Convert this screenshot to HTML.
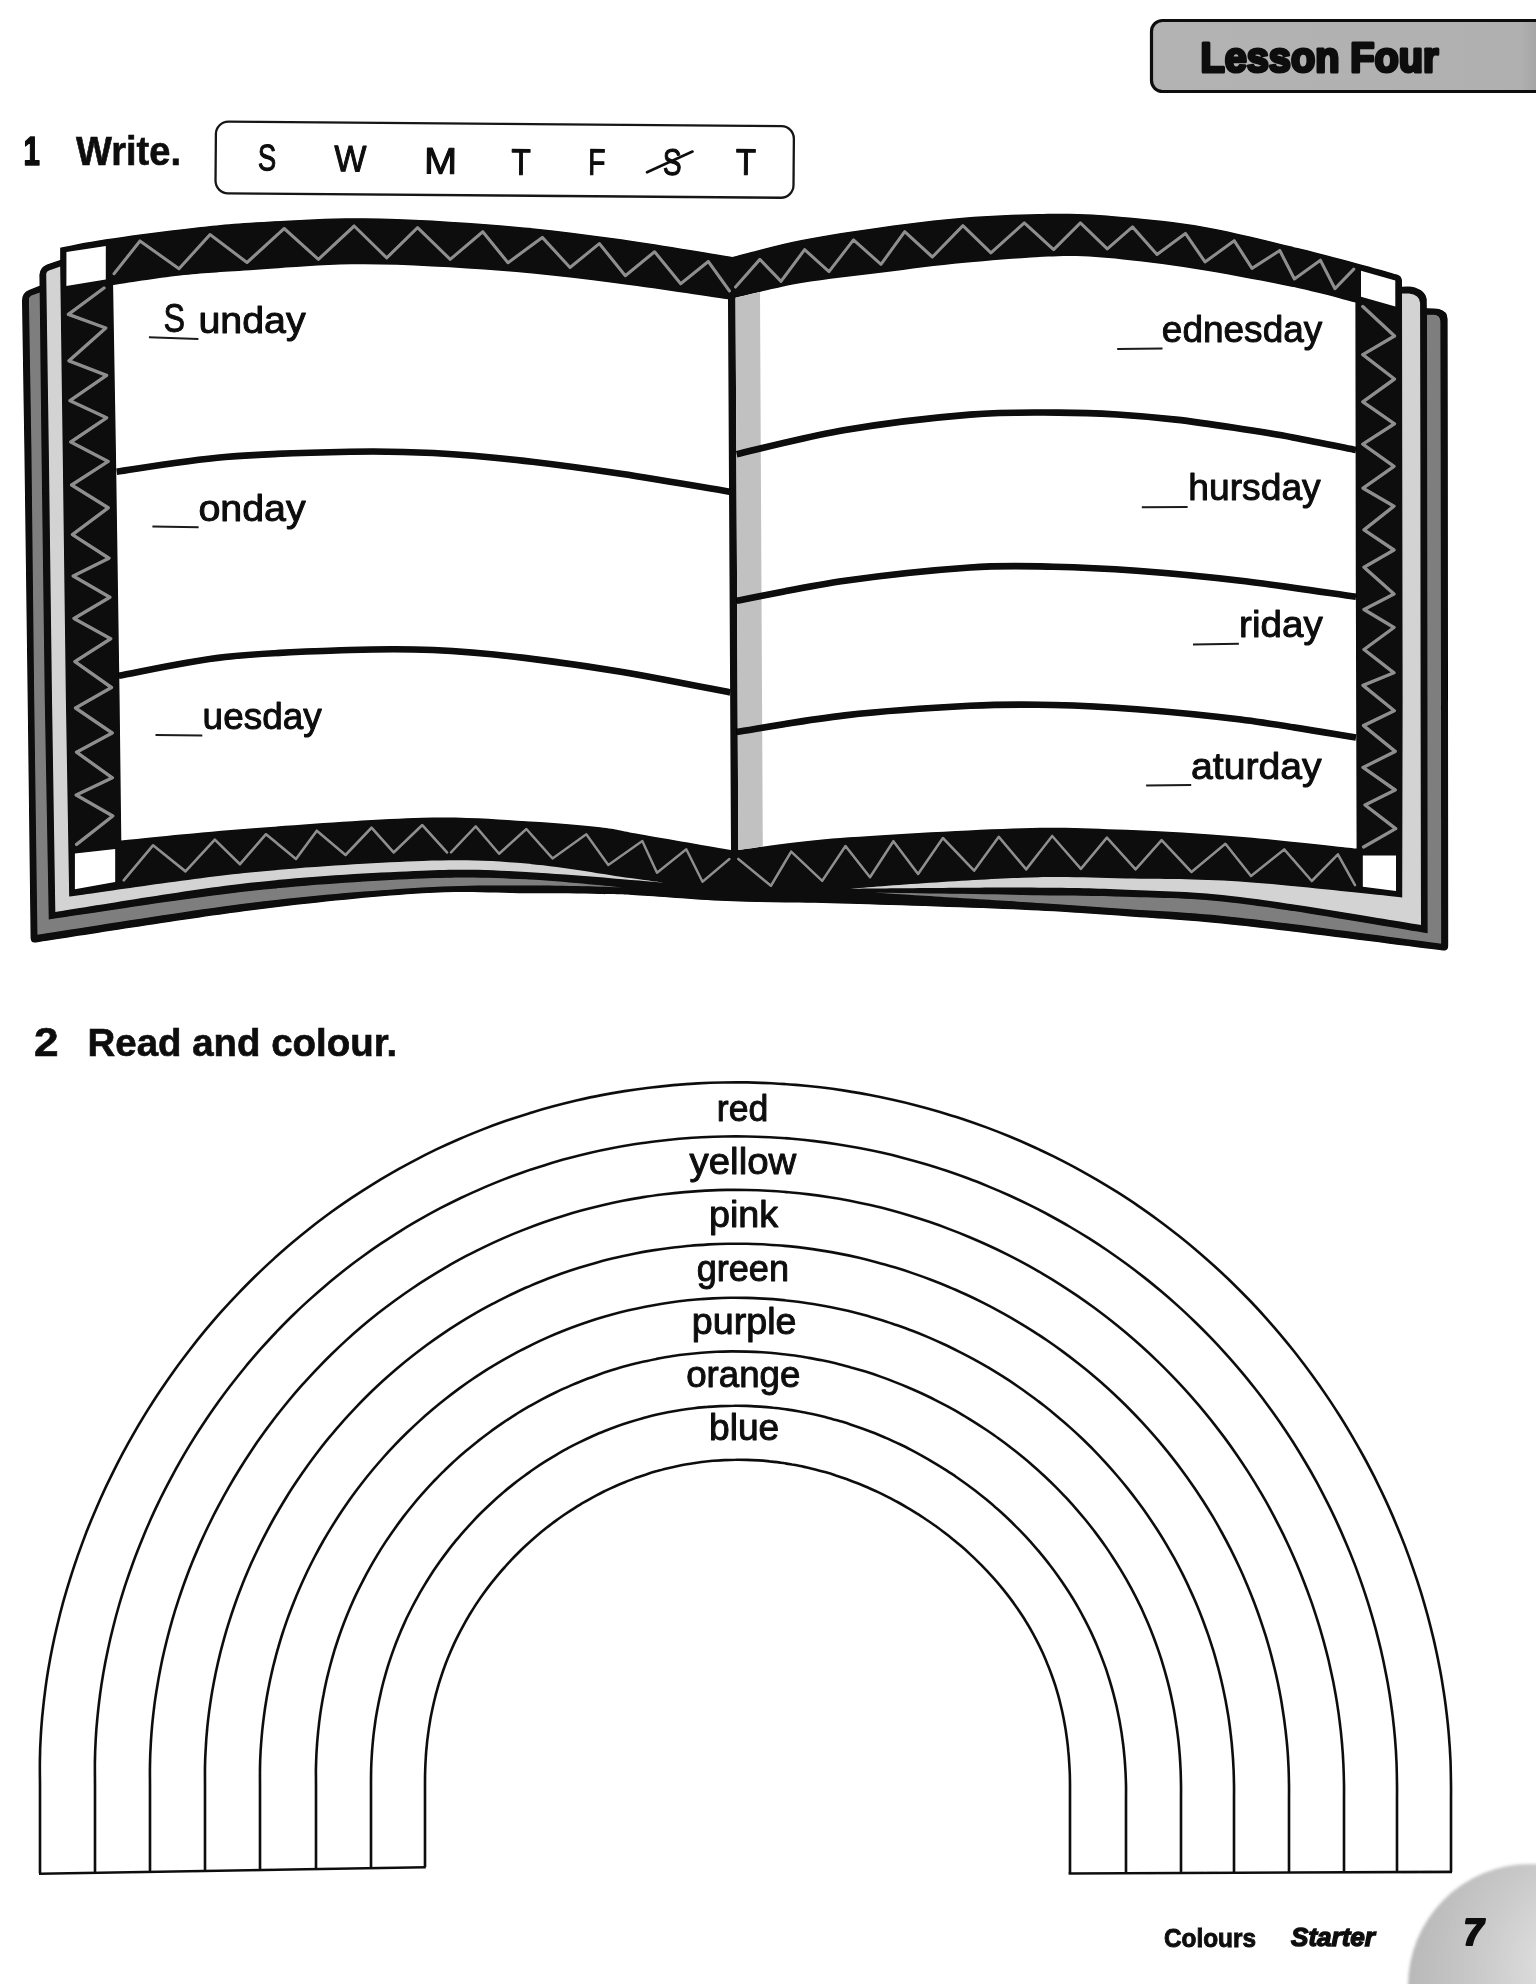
<!DOCTYPE html>
<html lang="en">
<head>
<meta charset="utf-8">
<title>Lesson Four</title>
<style>
html,body{margin:0;padding:0;background:#fff;}
body{width:1536px;height:1984px;overflow:hidden;font-family:"Liberation Sans",sans-serif;}
svg{display:block;}
</style>
</head>
<body>
<svg width="1536" height="1984" viewBox="0 0 1536 1984">
<defs>
<linearGradient id="hdr" x1="0" x2="1" y1="0" y2="0"><stop offset="0" stop-color="#b3b3b3"/><stop offset="0.88" stop-color="#b0b0b0"/><stop offset="1" stop-color="#8a8a8a"/></linearGradient>
<radialGradient id="ball" cx="0.72" cy="0.42" r="0.75"><stop offset="0" stop-color="#e9e9e9"/><stop offset="0.55" stop-color="#cbcbcb"/><stop offset="1" stop-color="#b6b6b6"/></radialGradient>
<filter id="soft" x="-10%" y="-10%" width="120%" height="120%"><feGaussianBlur stdDeviation="1.6"/></filter>
<filter id="ink" filterUnits="userSpaceOnUse" x="-20" y="-20" width="1640" height="2160"><feGaussianBlur stdDeviation="0.4"/></filter>
</defs>
<rect width="1536" height="1984" fill="#fff"/>
<g id="page" filter="url(#ink)">
<g id="header">
<rect x="1151.5" y="20.5" width="420" height="71" rx="11" ry="11" fill="url(#hdr)" stroke="#111" stroke-width="3.2"/>
<text id="t_lesson" x="1200.5" y="72" font-family="'Liberation Sans',sans-serif" font-weight="bold" font-size="42.5" textLength="238" lengthAdjust="spacingAndGlyphs" fill="#0a0a0a" stroke="#0a0a0a" stroke-width="3.2" stroke-linejoin="round">Lesson Four</text>
</g>
<g id="ex1" font-family="'Liberation Sans',sans-serif" fill="#0a0a0a">
<text id="t_1" x="23.4" y="164.6" font-weight="bold" font-size="41" textLength="16.4" lengthAdjust="spacingAndGlyphs" stroke="#0a0a0a" stroke-width="1.5" stroke-linejoin="round">1</text>
<text id="t_write" x="76" y="165" font-weight="bold" font-size="41" textLength="105" lengthAdjust="spacingAndGlyphs" stroke="#0a0a0a" stroke-width="0.6">Write.</text>
<g transform="rotate(0.46 215 121)">
<rect x="216" y="121.6" width="578" height="71.6" rx="12.5" ry="12.5" fill="#fff" stroke="#161616" stroke-width="2.3"/>
<text id="t_la" x="267.3" y="170" text-anchor="middle" font-size="37" textLength="18.4" lengthAdjust="spacingAndGlyphs" stroke="#0a0a0a" stroke-width="1.05" stroke-linejoin="round">S</text>
<text id="t_lb" x="350.6" y="170.2" text-anchor="middle" font-size="37" textLength="32" lengthAdjust="spacingAndGlyphs" stroke="#0a0a0a" stroke-width="1.05" stroke-linejoin="round">W</text>
<text id="t_lc" x="441" y="171.8" text-anchor="middle" font-size="37" textLength="33" lengthAdjust="spacingAndGlyphs" stroke="#0a0a0a" stroke-width="1.05" stroke-linejoin="round">M</text>
<text id="t_ld" x="521.3" y="172.4" text-anchor="middle" font-size="37" textLength="19.4" lengthAdjust="spacingAndGlyphs" stroke="#0a0a0a" stroke-width="1.05" stroke-linejoin="round">T</text>
<text id="t_le" x="597.2" y="171.8" text-anchor="middle" font-size="37" textLength="17.4" lengthAdjust="spacingAndGlyphs" stroke="#0a0a0a" stroke-width="1.05" stroke-linejoin="round">F</text>
<text id="t_lf" x="672.5" y="171.1" text-anchor="middle" font-size="37" textLength="18.8" lengthAdjust="spacingAndGlyphs" stroke="#0a0a0a" stroke-width="1.05" stroke-linejoin="round">S</text>
<text id="t_lg" x="746.2" y="170.7" text-anchor="middle" font-size="37" textLength="20.2" lengthAdjust="spacingAndGlyphs" stroke="#0a0a0a" stroke-width="1.05" stroke-linejoin="round">T</text>
</g>
<path d="M647 172.3L692.5 151.5" stroke="#111" stroke-width="2.6" fill="none" stroke-linecap="round"/>
</g>
<g id="book">
<path d="M22 300L24.4 450L27.7 700L30.6 938Q31 943.5 36 942.4C71.7 937.1 185.6 918.7 250 910.5C314.4 902.3 376.2 896.2 422.3 893.3C468.4 890.4 496.8 893.2 526.4 893.3C556 893.4 581.1 893.6 600 894C618.9 894.4 617.8 894.2 640 895.4C662.2 896.6 698.5 899.9 733.5 901.3C768.5 902.7 801.9 902.3 850 903.7C898.1 905.1 976.2 907.6 1022.3 909.7C1068.4 911.8 1090.1 913.6 1126.4 916.2C1162.7 918.8 1187.2 919.7 1240 925.4C1292.8 931.1 1409.2 946.2 1443 950.4Q1448.4 951.2 1448.2 945L1448 700L1447.8 450L1447.6 319Q1447.4 311 1439 309Q1437 308.4 1434 308.4L1426.8 308.3L1426.7 299Q1426 291.5 1415 287.6Q1412 286.6 1408 286.6L1402 286.7L1402 281Q1401.8 276 1397 274.6C1391.3 273 1379.3 269.4 1362.8 265C1346.2 260.6 1324 254.3 1297.7 248C1271.4 241.7 1234.2 232.1 1205 226.9C1175.8 221.7 1147.3 219.2 1122.8 217C1098.2 214.8 1084 213.7 1057.7 213.8C1031.4 213.9 994.1 215.3 965 217.5C935.9 219.7 910.1 223.2 882.8 226.9C855.5 230.6 826.4 234.9 801.4 239.9C776.4 244.9 744 254.2 732.5 257C712.8 253.9 652.8 243.6 614 238.3C575.2 233 541.7 228.5 500 225.2C458.3 221.8 405.7 218.6 364 218.2C322.3 217.8 280.7 220.9 250 222.8C219.3 224.7 204 226.8 180 229.5C156 232.2 125.8 236.3 105.8 239.3C85.8 242.3 67.8 246.3 60.2 247.7L60.2 260L47 264.4Q39.8 267 39.4 275L39.6 285.8L29 290Q22.4 292.6 22.1 300Z" fill="#070707"/>
<path d="M28.9 299Q29 296.4 31.4 295.4L39.7 292.4L41.5 450L44.8 700L48.8 919.4C82.3 914.7 187.8 897.8 250 891C312.2 884.2 376.2 880.5 422.3 878.5C468.4 876.5 493.1 877.8 526.4 879.3C559.7 880.8 606.1 886 622 887.3C606.1 887 559.7 885.5 526.4 885.5C493.1 885.5 468.4 884.7 422.3 887.6C376.2 890.5 314.1 895.1 250 903C185.8 910.9 72.8 929.5 37.4 934.8L34.2 700L31.4 450Z" fill="#7e7e7e"/>
<path d="M1427 314.7L1434 314.8Q1440 315.4 1440.4 321L1440.7 450L1441 700L1441.2 943.8C1407.7 939.4 1292.5 923.5 1240 917.7C1187.5 911.9 1162.7 911.6 1126.4 909C1090.1 906.4 1064.7 904.7 1022.3 902C979.9 899.3 897 894.2 872 892.6C897 893 979.9 894.2 1022.3 894.9C1064.7 895.6 1090.1 895.3 1126.4 896.7C1162.7 898.1 1189.8 897.3 1240 903.4C1290.2 909.5 1396.3 928.2 1427.6 933.2L1427.4 700L1427.1 450Z" fill="#7e7e7e"/>
<path d="M46.2 274Q46.4 271.6 49 270.6L60.2 266.6L62.7 450L65.9 700L69.2 896.6C99.3 892.6 191.2 878.4 250 872.5C308.9 866.6 376.2 862.5 422.3 861C468.4 859.5 491.8 860.8 526.4 863.6C561 866.4 607.1 874.9 630 878C652.9 881.1 657.9 881.8 663.5 882.5C640.6 880.8 566.6 874 526.4 872C486.2 870 468.4 868.9 422.3 870.7C376.2 872.5 311.2 875.9 250 882.8C188.8 889.7 87.8 907.1 55.3 912L52 700L48.8 450Z" fill="#d3d3d3"/>
<path d="M1402 293.4L1409 293.5Q1419.6 294.5 1420.1 303L1420.4 450L1420.6 700L1421 925C1390.8 920.3 1289.1 902.8 1240 896.9C1190.9 891 1162.7 891.2 1126.4 889.7C1090.1 888.2 1068.4 887.8 1022.3 887.6C976.2 887.5 878.7 888.6 850 888.8C878.7 886 976.2 879.2 1022.3 877.7C1068.4 876.2 1090.1 877.9 1126.4 878.5C1162.7 879.1 1194 878.5 1240 881.6C1286 884.8 1375.2 894.8 1402.2 897.4L1402.6 700L1402.2 450Z" fill="#d3d3d3"/>
<path d="M113.1 285C124.2 283.4 157.2 278 180 275.5C202.8 273 219.3 272.1 250 270.2C280.7 268.3 322.3 264.2 364 264.3C405.7 264.4 458.3 267.7 500 270.8C541.7 273.9 576 278.2 614 283C652 287.8 709 296.6 728 299.3L729.5 575L731 850C715.8 847.4 661.8 838 640 834.2C618.2 830.4 618.9 829.4 600 827.2C581.1 825 556 822.8 526.4 821.2C496.8 819.6 468.4 816.6 422.3 817.8C376.2 819 300.2 824.7 250 828.5C199.8 832.3 142.8 838.4 121.3 840.4L119.6 700L115.9 450Z" fill="#fff"/>
<path d="M735.5 297.7C746.5 295.2 776.9 287.2 801.4 283C825.9 278.8 855.5 275.8 882.8 272.4C910.1 269 935.9 265.4 965 262.7C994.1 260 1031.4 256.8 1057.7 256.2C1084 255.6 1098.2 257 1122.8 259.4C1147.3 261.8 1175.8 265.6 1205 270.4C1234.2 275.2 1272.6 282.6 1297.7 288C1322.8 293.4 1345.8 300.1 1355.4 302.5L1355.8 575L1356.6 848.6C1337.2 846.6 1278.4 839.9 1240 836.8C1201.6 833.7 1162.7 831.2 1126.4 829.8C1090.1 828.4 1070 826.8 1022.3 828.2C974.6 829.6 887.3 834.4 840 838C792.7 841.6 755.2 848 738.3 850L737 575Z" fill="#fff"/>
<path d="M735.5 297.7L760 292L761.4 575L762.8 846.6L738.3 850L737 575Z" fill="#c1c1c1"/>
<path d="M66.4 252 105.8 246 105.8 279.4 66.4 286Z" fill="#fff"/>
<path d="M1361 270.8 1395.3 280.6 1395.3 306.6 1361 296.8Z" fill="#fff"/>
<path d="M74.9 853.5 115.2 849 115.2 882 74.9 889.3Z" fill="#fff"/>
<path d="M1362.8 855.6 1396 855.6 1396 890.9 1362.8 886.8Z" fill="#fff"/>
<path d="M116.7 471.7C134.8 469.2 186.1 460.3 225 457C263.9 453.7 315.3 452.4 350 451.7C384.7 451 405.5 451.6 433.3 453C461.1 454.4 485.5 456.5 516.7 460C548 463.5 585.3 468.5 620.8 473.8C656.3 479.1 711.5 488.7 729.6 491.7" fill="none" stroke="#070707" stroke-width="6.6"/>
<path d="M118.8 675.8C136.5 672.7 186.5 661.3 225 657C263.5 652.7 315.3 651.2 350 650C384.7 648.8 405.2 648.8 433 650C460.8 651.2 485.4 653.4 516.7 657C548 660.6 585.2 665.8 620.8 671.7C656.4 677.6 712 689 730.2 692.5" fill="none" stroke="#070707" stroke-width="6.6"/>
<path d="M736.7 454.2C754.8 450.2 806.1 436.6 845 430C883.9 423.4 934.4 417.5 970 414.6C1005.6 411.7 1034.1 412.6 1058.6 412.6C1083.1 412.6 1097.7 413.3 1117.2 414.5C1136.7 415.7 1156.3 417.4 1175.8 419.6C1195.3 421.8 1214.9 424.8 1234.4 427.8C1253.9 430.8 1272.7 433.7 1293 437.4C1313.3 441.1 1345.5 447.9 1356 450" fill="none" stroke="#070707" stroke-width="6.6"/>
<path d="M736.7 600.8C754.8 597.5 806.1 586.3 845 580.8C883.9 575.2 935.3 569.9 970 567.5C1004.7 565.1 1025.5 566.2 1053.3 566.7C1081.1 567.2 1105.5 568.4 1136.7 570.8C1168 573.1 1204.2 576.5 1240.8 580.8C1277.3 585.1 1336.8 594.1 1356 596.7" fill="none" stroke="#070707" stroke-width="6.6"/>
<path d="M736.7 732C754.8 729.2 806.1 719.8 845 715.4C883.9 711 935.3 707.5 970 705.8C1004.7 704.1 1025.5 704.4 1053.3 705C1081.1 705.6 1105.5 706.8 1136.7 709.2C1168 711.6 1204.2 714.9 1240.8 719.6C1277.3 724.3 1336.8 734.5 1356 737.5" fill="none" stroke="#070707" stroke-width="6.6"/>
<path d="M114 273.7 140 241 179 268.8 210 234.6 247 262.5 284.2 228.5 318.4 259.4 354.2 226 386.7 257.8 417.6 227.7 450.2 259.4 482.8 231.7 508 262.7 542.3 237.4 570 267.5 599.3 243.6 625.3 275.7 654.6 251.8 680.7 283.8 708.3 261.5 729.5 291" fill="none" stroke="#8e8e8e" stroke-width="3.1" stroke-linejoin="round" stroke-linecap="round"/>
<path d="M735.5 287 759.9 259.4 781 281.4 804.6 249.6 829 271.6 853.5 239.9 881 264.3 904.7 231.7 932.4 257 962.9 225.6 990.9 252.9 1024.3 222.8 1053.6 249.6 1080.4 222.8 1107.3 248.8 1132.5 226.9 1157 254.5 1185.4 233.4 1205 261.9 1234.2 240.7 1252 268.4 1279.8 250.5 1294.4 279 1320.4 260.2 1335 288.7 1353.8 269.2" fill="none" stroke="#8e8e8e" stroke-width="3.1" stroke-linejoin="round" stroke-linecap="round"/>
<path d="M104 288 68.4 314.4 105.8 328 69 360.8 106.6 375.4 70 400.7 106.6 417.8 70.8 442 108.2 461.4 71.6 485 108.2 507.8 72.4 534.6 109 558.2 73.2 576 109.9 597.3 74 618.5 110.7 638.8 74.9 661.6 111.5 687.5 75.5 708 112.2 733 76.5 752.2 112.4 777.8 76.2 795 112.8 816 76.6 844.4" fill="none" stroke="#8e8e8e" stroke-width="3.4" stroke-linejoin="round" stroke-linecap="round"/>
<path d="M1362.8 306.6 1394.5 336 1362.8 354.6 1394.5 379 1362.8 401.8 1394.5 423.8 1362.8 444.1 1394 466.3 1363.1 488.2 1394 506.2 1364 529.8 1394 550 1364 567.2 1394 594 1364 609.5 1394 627.5 1364 649.5 1394 672.8 1363 685.4 1394.3 710.7 1363.5 725.6 1395.2 751.4 1363 767.4 1395.2 790 1365 805 1395.7 828.6 1363.6 847" fill="none" stroke="#8e8e8e" stroke-width="3.4" stroke-linejoin="round" stroke-linecap="round"/>
<path d="M123.7 880.3 153 845.3 185.5 871.4 214.8 839.6 240 864.2 266 834.2 296 859 316.8 830.8 345.5 855 371.5 827.7 393.6 852.4 422.3 825.1 447 852.4" fill="none" stroke="#8e8e8e" stroke-width="2.7" stroke-linejoin="round" stroke-linecap="round"/>
<path d="M451 852.4 475.7 826.4 499.1 853.7 526.4 829 552.5 858.4 586.3 834.2 608.3 865 642.3 841 657 872.8 686.3 849.2 702.5 881.7 729.4 859" fill="none" stroke="#8e8e8e" stroke-width="2.5" stroke-linejoin="round" stroke-linecap="round"/>
<path d="M738.3 859 770.9 885.8 791.2 851.6 822.2 880.9 845.5 846 870 877.2 893.4 841.2 918.1 874 942.9 838 974.1 870.7 998.8 836.8 1026.2 869.4 1052.2 836 1080.9 868.8 1106.9 837.6 1135.6 869.4 1161.6 840.2 1191.5 872 1225.4 843.8 1251 876 1284.2 849.4 1311.8 881 1337.9 854.3 1355 885.2" fill="none" stroke="#8e8e8e" stroke-width="2.6" stroke-linejoin="round" stroke-linecap="round"/>
<path d="M148.9 337.3L198.4 338.9" stroke="#1a1a1a" stroke-width="2" fill="none"/>
<path d="M152.4 526.6L198.6 527.3" stroke="#1a1a1a" stroke-width="2" fill="none"/>
<path d="M155.5 735.1L202.3 735.4" stroke="#1a1a1a" stroke-width="2" fill="none"/>
<path d="M1117.2 349.1L1162.5 348.6" stroke="#1a1a1a" stroke-width="2" fill="none"/>
<path d="M1141.8 507.3L1187.6 506.9" stroke="#1a1a1a" stroke-width="2" fill="none"/>
<path d="M1193 644.4L1238.9 643.7" stroke="#1a1a1a" stroke-width="2" fill="none"/>
<path d="M1146.1 785.4L1191.2 785.1" stroke="#1a1a1a" stroke-width="2" fill="none"/>
<g font-family="'Liberation Sans',sans-serif" font-size="37" fill="#0a0a0a" stroke="#0a0a0a" stroke-width="0.95" stroke-linejoin="round">
<text id="t_S" x="163.4" y="332" font-size="40" textLength="21.5" lengthAdjust="spacingAndGlyphs" stroke-width="0.9">S</text>
<text id="t_unday" x="198.4" y="332.7" textLength="107.2" lengthAdjust="spacingAndGlyphs">unday</text>
<text id="t_onday" x="198.4" y="521.4" textLength="107.2" lengthAdjust="spacingAndGlyphs">onday</text>
<text id="t_uesday" x="202.6" y="729.1" textLength="119.1" lengthAdjust="spacingAndGlyphs">uesday</text>
<text id="t_ednesday" x="1161.8" y="341.6" textLength="160.5" lengthAdjust="spacingAndGlyphs">ednesday</text>
<text id="t_hursday" x="1188.3" y="500.1" textLength="132.4" lengthAdjust="spacingAndGlyphs">hursday</text>
<text id="t_riday" x="1239.1" y="637.3" textLength="83.6" lengthAdjust="spacingAndGlyphs">riday</text>
<text id="t_aturday" x="1191.1" y="779.1" textLength="130.6" lengthAdjust="spacingAndGlyphs">aturday</text>
</g>
</g>
<g id="ex2" font-family="'Liberation Sans',sans-serif" fill="#0a0a0a">
<text id="t_2" x="34" y="1056" font-weight="bold" font-size="40" textLength="24.6" lengthAdjust="spacingAndGlyphs" stroke="#0a0a0a" stroke-width="0.6">2</text>
<text id="t_read" x="87.6" y="1056" font-weight="bold" font-size="39" textLength="309.6" lengthAdjust="spacingAndGlyphs" stroke="#0a0a0a" stroke-width="0.6">Read and colour.</text>
</g>
<g id="rainbow" fill="none" stroke="#111" stroke-width="2.6" stroke-linejoin="round">
<path d="M40 1873.6L40 1797C40 1795 40 1791.1 40 1785C40 1778.9 39.7 1768.5 39.9 1760.3C40 1752.1 40.3 1743.8 40.8 1735.6C41.3 1727.4 41.9 1719.2 42.8 1711C43.6 1702.8 44.6 1694.6 45.7 1686.4C46.8 1678.3 48.1 1670.1 49.6 1662C51 1653.9 52.7 1645.8 54.4 1637.8C56.2 1629.7 58.1 1621.7 60.1 1613.7C62.1 1605.8 64.3 1597.8 66.7 1589.9C69 1582 71.5 1574.2 74.1 1566.3C76.7 1558.5 79.4 1550.8 82.3 1543.1C85.1 1535.3 88.1 1527.7 91.3 1520.1C94.4 1512.5 97.7 1504.9 101 1497.4C104.4 1489.9 107.9 1482.5 111.6 1475.1C115.2 1467.7 118.9 1460.4 122.8 1453.1C126.7 1445.9 130.7 1438.7 134.8 1431.6C138.9 1424.4 143.2 1417.4 147.5 1410.4C151.9 1403.4 156.3 1396.5 160.9 1389.7C165.5 1382.9 170.2 1376.1 175 1369.4C179.8 1362.8 184.8 1356.2 189.8 1349.7C194.8 1343.2 200 1336.7 205.2 1330.4C210.5 1324.1 215.9 1317.8 221.3 1311.7C226.8 1305.6 232.4 1299.5 238.1 1293.6C243.8 1287.6 249.6 1281.8 255.5 1276C261.4 1270.3 267.4 1264.6 273.5 1259.1C279.6 1253.6 285.8 1248.1 292.1 1242.8C298.3 1237.5 304.7 1232.3 311.2 1227.2C317.7 1222.1 324.3 1217.2 330.9 1212.3C337.6 1207.5 344.4 1202.8 351.2 1198.2C358 1193.6 364.9 1189.1 371.9 1184.8C378.9 1180.4 386 1176.2 393.2 1172.1C400.3 1168.1 407.5 1164.1 414.8 1160.3C422.1 1156.5 429.5 1152.8 436.9 1149.2C444.3 1145.7 451.8 1142.3 459.4 1139C466.9 1135.7 474.6 1132.6 482.2 1129.6C489.9 1126.6 497.6 1123.8 505.3 1121.1C513.1 1118.4 520.9 1115.8 528.8 1113.4C536.6 1110.9 544.5 1108.6 552.4 1106.5C560.4 1104.4 568.3 1102.4 576.3 1100.5C584.3 1098.7 592.4 1096.9 600.4 1095.4C608.5 1093.8 616.5 1092.4 624.6 1091.1C632.7 1089.8 640.9 1088.7 649 1087.7C657.1 1086.7 665.3 1085.8 673.4 1085.1C681.6 1084.4 689.8 1083.8 697.9 1083.4C706.1 1082.9 714.3 1082.6 722.5 1082.5C730.6 1082.3 738.8 1082.3 747 1082.4C755.2 1082.6 763.3 1082.8 771.5 1083.2C779.7 1083.6 787.8 1084.2 796 1084.9C804.1 1085.6 812.2 1086.4 820.3 1087.3C828.4 1088.3 836.5 1089.4 844.6 1090.6C852.7 1091.9 860.7 1093.2 868.7 1094.7C876.7 1096.2 884.7 1097.9 892.7 1099.7C900.6 1101.4 908.6 1103.3 916.4 1105.4C924.3 1107.4 932.2 1109.6 940 1111.9C947.8 1114.2 955.6 1116.7 963.3 1119.2C971 1121.8 978.7 1124.5 986.4 1127.4C994 1130.2 1001.6 1133.2 1009.1 1136.3C1016.6 1139.4 1024.1 1142.6 1031.5 1146C1038.9 1149.3 1046.3 1152.8 1053.6 1156.4C1060.9 1160 1068.1 1163.8 1075.3 1167.6C1082.4 1171.5 1089.5 1175.5 1096.6 1179.6C1103.6 1183.7 1110.5 1187.9 1117.4 1192.2C1124.3 1196.6 1131.1 1201 1137.8 1205.6C1144.5 1210.2 1151.2 1214.9 1157.7 1219.7C1164.3 1224.5 1170.7 1229.5 1177.1 1234.5C1183.5 1239.5 1189.8 1244.7 1196 1249.9C1202.2 1255.2 1208.3 1260.5 1214.3 1266C1220.3 1271.5 1226.3 1277 1232.1 1282.7C1237.9 1288.4 1243.6 1294.1 1249.3 1300C1254.9 1305.8 1260.4 1311.8 1265.8 1317.8C1271.2 1323.9 1276.6 1330 1281.8 1336.3C1287 1342.5 1292.1 1348.8 1297.1 1355.2C1302.1 1361.6 1307 1368.1 1311.8 1374.7C1316.6 1381.2 1321.3 1387.9 1325.8 1394.6C1330.4 1401.3 1334.8 1408.1 1339.2 1415C1343.5 1421.8 1347.8 1428.8 1351.9 1435.8C1356 1442.8 1360 1449.9 1363.9 1457C1367.8 1464.1 1371.5 1471.4 1375.2 1478.6C1378.8 1485.9 1382.4 1493.2 1385.8 1500.6C1389.2 1508 1392.5 1515.4 1395.6 1522.9C1398.8 1530.4 1401.9 1538 1404.8 1545.6C1407.7 1553.2 1410.5 1560.9 1413.1 1568.6C1415.8 1576.3 1418.4 1584 1420.8 1591.8C1423.2 1599.6 1425.4 1607.4 1427.6 1615.3C1429.7 1623.2 1431.7 1631.1 1433.6 1639.1C1435.4 1647 1437.2 1655 1438.7 1663C1440.3 1671 1441.8 1679.1 1443 1687.2C1444.3 1695.3 1445.5 1703.4 1446.4 1711.5C1447.4 1719.6 1448.3 1727.8 1448.9 1735.9C1449.6 1744.1 1450.1 1752.3 1450.5 1760.4C1450.8 1768.6 1450.9 1778.9 1451 1785C1451.1 1791.1 1451 1795 1451 1797L1451 1871.9"/>
<path d="M95 1872.7L95 1797C95 1795 95 1790.8 95 1785C95 1779.2 94.8 1769.8 94.9 1762.2C95 1754.6 95.3 1747 95.7 1739.5C96.1 1731.9 96.7 1724.3 97.5 1716.7C98.2 1709.2 99.1 1701.6 100.1 1694.1C101.1 1686.6 102.3 1679 103.6 1671.6C104.9 1664.1 106.4 1656.6 108 1649.2C109.6 1641.7 111.3 1634.3 113.2 1627C115 1619.6 117 1612.3 119.1 1605C121.3 1597.7 123.5 1590.4 125.9 1583.2C128.3 1576 130.8 1568.8 133.4 1561.7C136 1554.5 138.8 1547.5 141.7 1540.4C144.5 1533.4 147.5 1526.4 150.6 1519.5C153.7 1512.5 157 1505.7 160.3 1498.8C163.6 1492 167.1 1485.3 170.7 1478.6C174.2 1471.9 177.9 1465.2 181.7 1458.6C185.5 1452.1 189.4 1445.5 193.4 1439.1C197.4 1432.6 201.6 1426.3 205.8 1420C210 1413.6 214.4 1407.4 218.8 1401.2C223.3 1395.1 227.8 1389 232.5 1383C237.1 1377 241.9 1371.1 246.7 1365.2C251.6 1359.4 256.5 1353.6 261.6 1347.9C266.7 1342.3 271.8 1336.7 277.1 1331.2C282.3 1325.7 287.7 1320.3 293.1 1315C298.6 1309.7 304.1 1304.5 309.8 1299.4C315.4 1294.3 321.1 1289.3 326.9 1284.4C332.7 1279.5 338.7 1274.7 344.6 1270C350.6 1265.3 356.7 1260.7 362.9 1256.3C369 1251.8 375.2 1247.4 381.6 1243.2C387.9 1239 394.3 1234.8 400.7 1230.8C407.2 1226.8 413.7 1222.9 420.3 1219.2C426.9 1215.4 433.6 1211.7 440.3 1208.2C447.1 1204.7 453.9 1201.3 460.7 1198C467.6 1194.8 474.5 1191.6 481.5 1188.6C488.4 1185.6 495.5 1182.7 502.5 1179.9C509.6 1177.1 516.7 1174.5 523.9 1172C531.1 1169.5 538.3 1167.1 545.5 1164.9C552.8 1162.7 560.1 1160.5 567.4 1158.6C574.7 1156.6 582.1 1154.7 589.4 1153C596.8 1151.3 604.2 1149.7 611.7 1148.3C619.1 1146.8 626.6 1145.5 634 1144.3C641.5 1143.2 649 1142.1 656.5 1141.2C664 1140.3 671.6 1139.5 679.1 1138.8C686.6 1138.2 694.2 1137.6 701.7 1137.3C709.3 1136.9 716.8 1136.6 724.4 1136.5C731.9 1136.3 739.5 1136.3 747 1136.5C754.5 1136.6 762.1 1136.9 769.6 1137.2C777.2 1137.6 784.7 1138.1 792.2 1138.8C799.7 1139.4 807.2 1140.2 814.7 1141.1C822.2 1142 829.6 1143 837.1 1144.2C844.5 1145.3 851.9 1146.6 859.3 1148C866.7 1149.4 874.1 1150.9 881.4 1152.6C888.8 1154.2 896.1 1156 903.3 1157.9C910.6 1159.8 917.9 1161.8 925.1 1164C932.3 1166.1 939.4 1168.4 946.6 1170.8C953.7 1173.2 960.8 1175.7 967.8 1178.3C974.9 1180.9 981.8 1183.7 988.8 1186.6C995.7 1189.4 1002.6 1192.4 1009.5 1195.5C1016.3 1198.6 1023.1 1201.8 1029.8 1205.2C1036.5 1208.5 1043.2 1211.9 1049.8 1215.5C1056.4 1219.1 1063 1222.7 1069.4 1226.5C1075.9 1230.3 1082.3 1234.2 1088.7 1238.2C1095 1242.2 1101.3 1246.3 1107.5 1250.5C1113.7 1254.8 1119.8 1259.1 1125.9 1263.5C1131.9 1267.9 1137.9 1272.5 1143.8 1277.1C1149.7 1281.7 1155.5 1286.5 1161.2 1291.3C1167 1296.2 1172.6 1301.1 1178.2 1306.1C1183.8 1311.1 1189.2 1316.3 1194.6 1321.5C1200 1326.7 1205.3 1332 1210.5 1337.4C1215.7 1342.8 1220.8 1348.3 1225.8 1353.8C1230.9 1359.4 1235.8 1365.1 1240.6 1370.8C1245.5 1376.5 1250.2 1382.4 1254.8 1388.3C1259.4 1394.1 1264 1400.1 1268.4 1406.2C1272.9 1412.2 1277.2 1418.3 1281.4 1424.5C1285.6 1430.7 1289.8 1437 1293.8 1443.3C1297.8 1449.7 1301.7 1456.1 1305.5 1462.5C1309.4 1469 1313.1 1475.5 1316.7 1482.1C1320.3 1488.7 1323.7 1495.4 1327.1 1502.1C1330.5 1508.8 1333.8 1515.5 1336.9 1522.4C1340.1 1529.2 1343.1 1536.1 1346 1543C1349 1549.9 1351.8 1556.9 1354.5 1563.9C1357.2 1570.9 1359.7 1578 1362.2 1585.1C1364.6 1592.2 1367 1599.4 1369.2 1606.6C1371.4 1613.8 1373.5 1621 1375.5 1628.3C1377.4 1635.6 1379.3 1642.9 1381 1650.2C1382.7 1657.6 1384.3 1665 1385.7 1672.4C1387.2 1679.8 1388.5 1687.2 1389.7 1694.7C1390.8 1702.1 1391.9 1709.6 1392.8 1717.1C1393.7 1724.6 1394.5 1732.1 1395.1 1739.7C1395.7 1747.2 1396.2 1754.8 1396.5 1762.3C1396.8 1769.9 1396.9 1779.2 1397 1785C1397.1 1790.8 1397 1795 1397 1797L1397 1872.1"/>
<path d="M150 1871.7L150 1797C150 1795 150 1790.5 150 1785C150 1779.5 149.8 1771.1 150 1764.2C150.1 1757.2 150.4 1750.2 150.8 1743.3C151.2 1736.4 151.7 1729.4 152.4 1722.5C153.1 1715.6 153.9 1708.7 154.8 1701.8C155.8 1694.9 156.9 1688 158.1 1681.2C159.3 1674.3 160.6 1667.5 162 1660.7C163.5 1653.9 165.1 1647.1 166.8 1640.3C168.5 1633.6 170.3 1626.9 172.2 1620.2C174.1 1613.5 176.2 1606.8 178.4 1600.2C180.5 1593.6 182.8 1587.1 185.2 1580.5C187.6 1574 190.1 1567.5 192.7 1561.1C195.4 1554.6 198.1 1548.2 200.9 1541.9C203.8 1535.5 206.7 1529.2 209.8 1523C212.8 1516.7 216 1510.5 219.3 1504.4C222.5 1498.3 225.9 1492.2 229.4 1486.1C232.8 1480.1 236.4 1474.1 240.1 1468.2C243.7 1462.3 247.5 1456.5 251.4 1450.7C255.2 1444.9 259.2 1439.2 263.3 1433.6C267.3 1427.9 271.5 1422.3 275.8 1416.8C280 1411.3 284.4 1405.9 288.8 1400.5C293.2 1395.2 297.8 1389.9 302.4 1384.7C307 1379.5 311.8 1374.4 316.6 1369.3C321.4 1364.3 326.3 1359.3 331.2 1354.5C336.2 1349.6 341.3 1344.8 346.4 1340.1C351.6 1335.4 356.8 1330.8 362.1 1326.3C367.5 1321.8 372.9 1317.4 378.3 1313.1C383.8 1308.8 389.4 1304.6 395 1300.5C400.6 1296.4 406.3 1292.4 412.1 1288.5C417.8 1284.5 423.7 1280.7 429.6 1277.1C435.5 1273.4 441.5 1269.8 447.5 1266.3C453.6 1262.8 459.7 1259.5 465.8 1256.2C472 1253 478.2 1249.8 484.5 1246.8C490.8 1243.8 497.1 1240.9 503.5 1238.1C509.9 1235.3 516.3 1232.6 522.8 1230.1C529.3 1227.5 535.8 1225.1 542.4 1222.7C548.9 1220.4 555.5 1218.2 562.2 1216.2C568.8 1214.1 575.5 1212.1 582.2 1210.3C588.9 1208.5 595.7 1206.8 602.4 1205.2C609.2 1203.6 616 1202.1 622.8 1200.8C629.6 1199.5 636.5 1198.2 643.3 1197.1C650.2 1196 657.1 1195.1 664 1194.2C670.9 1193.4 677.8 1192.7 684.7 1192.1C691.6 1191.5 698.5 1191 705.4 1190.6C712.4 1190.3 719.3 1190 726.2 1189.9C733.1 1189.8 740.1 1189.8 747 1190C753.9 1190.1 760.8 1190.3 767.8 1190.7C774.7 1191.1 781.6 1191.6 788.5 1192.2C795.3 1192.8 802.2 1193.5 809.1 1194.4C815.9 1195.2 822.8 1196.2 829.6 1197.3C836.4 1198.3 843.2 1199.5 850 1200.8C856.8 1202.2 863.5 1203.6 870.3 1205.1C877 1206.7 883.7 1208.3 890.3 1210.1C897 1211.9 903.6 1213.8 910.2 1215.8C916.8 1217.8 923.4 1219.9 929.9 1222.1C936.4 1224.3 942.9 1226.6 949.3 1229.1C955.8 1231.5 962.2 1234 968.5 1236.7C974.9 1239.4 981.2 1242.1 987.4 1245C993.7 1247.8 999.9 1250.8 1006 1253.9C1012.2 1257 1018.3 1260.1 1024.3 1263.4C1030.4 1266.7 1036.4 1270.1 1042.3 1273.6C1048.2 1277 1054.1 1280.6 1059.9 1284.3C1065.7 1288 1071.4 1291.8 1077.1 1295.6C1082.8 1299.5 1088.4 1303.5 1093.9 1307.5C1099.4 1311.6 1104.9 1315.7 1110.3 1320C1115.7 1324.2 1121 1328.6 1126.3 1333C1131.5 1337.4 1136.7 1341.9 1141.8 1346.5C1146.9 1351.1 1151.9 1355.8 1156.9 1360.6C1161.8 1365.3 1166.7 1370.2 1171.4 1375.1C1176.2 1380 1180.9 1385.1 1185.5 1390.1C1190.1 1395.2 1194.7 1400.4 1199.1 1405.6C1203.6 1410.9 1207.9 1416.2 1212.2 1421.6C1216.4 1427 1220.6 1432.4 1224.7 1437.9C1228.8 1443.5 1232.8 1449.1 1236.7 1454.7C1240.6 1460.4 1244.4 1466.1 1248.1 1471.9C1251.8 1477.7 1255.4 1483.5 1258.9 1489.4C1262.4 1495.4 1265.9 1501.3 1269.2 1507.4C1272.5 1513.4 1275.7 1519.5 1278.8 1525.6C1282 1531.7 1285 1537.9 1287.9 1544.2C1290.8 1550.4 1293.6 1556.7 1296.3 1563.1C1299 1569.4 1301.6 1575.8 1304.1 1582.2C1306.6 1588.6 1309 1595.1 1311.3 1601.6C1313.6 1608.2 1315.7 1614.7 1317.8 1621.3C1319.9 1627.9 1321.8 1634.6 1323.6 1641.2C1325.4 1647.9 1327.2 1654.6 1328.8 1661.3C1330.3 1668.1 1331.8 1674.8 1333.2 1681.6C1334.5 1688.4 1335.8 1695.3 1336.9 1702.1C1338 1708.9 1339 1715.8 1339.8 1722.7C1340.7 1729.6 1341.4 1736.5 1342 1743.4C1342.6 1750.3 1343.1 1757.2 1343.4 1764.2C1343.7 1771.1 1343.9 1779.5 1344 1785C1344.1 1790.5 1344 1795 1344 1797L1344 1872.3"/>
<path d="M205 1870.8L205 1797C205 1795 205 1790.2 205 1785C205 1779.8 204.9 1772.4 205 1766.1C205.1 1759.8 205.4 1753.5 205.8 1747.2C206.1 1740.9 206.6 1734.6 207.2 1728.3C207.8 1722 208.6 1715.7 209.4 1709.4C210.3 1703.2 211.2 1696.9 212.3 1690.7C213.4 1684.5 214.6 1678.3 215.9 1672.1C217.2 1665.9 218.6 1659.8 220.1 1653.6C221.6 1647.5 223.3 1641.4 225 1635.3C226.8 1629.2 228.6 1623.2 230.6 1617.2C232.5 1611.2 234.6 1605.2 236.7 1599.3C238.9 1593.3 241.2 1587.4 243.5 1581.6C245.9 1575.7 248.4 1569.9 250.9 1564.1C253.5 1558.4 256.2 1552.6 258.9 1547C261.7 1541.3 264.6 1535.6 267.5 1530.1C270.5 1524.5 273.5 1518.9 276.7 1513.5C279.8 1508 283.1 1502.6 286.4 1497.2C289.7 1491.8 293.2 1486.5 296.7 1481.3C300.2 1476 303.8 1470.8 307.5 1465.7C311.2 1460.5 315 1455.5 318.8 1450.5C322.7 1445.5 326.6 1440.5 330.7 1435.7C334.7 1430.8 338.8 1426 343 1421.3C347.2 1416.5 351.5 1411.9 355.9 1407.3C360.3 1402.7 364.7 1398.2 369.2 1393.8C373.8 1389.4 378.4 1385 383 1380.8C387.7 1376.5 392.5 1372.3 397.3 1368.2C402.1 1364.1 407 1360.1 412 1356.2C417 1352.3 422 1348.5 427.1 1344.7C432.2 1341 437.4 1337.3 442.6 1333.8C447.9 1330.2 453.2 1326.8 458.6 1323.4C463.9 1320 469.3 1316.8 474.8 1313.6C480.3 1310.4 485.9 1307.4 491.5 1304.4C497 1301.4 502.7 1298.6 508.4 1295.8C514.1 1293 519.9 1290.4 525.6 1287.8C531.4 1285.3 537.3 1282.8 543.2 1280.5C549.1 1278.2 555 1275.9 560.9 1273.8C566.9 1271.7 572.9 1269.7 579 1267.8C585 1265.9 591.1 1264.1 597.2 1262.4C603.3 1260.8 609.4 1259.2 615.5 1257.8C621.7 1256.3 627.9 1255 634.1 1253.7C640.3 1252.5 646.5 1251.4 652.7 1250.4C659 1249.4 665.2 1248.5 671.5 1247.7C677.8 1247 684 1246.3 690.3 1245.7C696.6 1245.2 702.9 1244.8 709.2 1244.4C715.5 1244.1 721.8 1243.9 728.1 1243.8C734.4 1243.7 740.7 1243.7 747 1243.8C753.3 1244 759.6 1244.2 765.9 1244.5C772.2 1244.9 778.4 1245.3 784.7 1245.9C791 1246.5 797.2 1247.1 803.4 1247.9C809.7 1248.7 815.9 1249.6 822.1 1250.6C828.3 1251.6 834.5 1252.7 840.6 1253.9C846.8 1255.1 852.9 1256.4 859.1 1257.8C865.2 1259.3 871.2 1260.8 877.3 1262.4C883.4 1264 889.4 1265.8 895.4 1267.6C901.4 1269.4 907.3 1271.3 913.2 1273.4C919.2 1275.4 925 1277.5 930.9 1279.8C936.7 1282 942.6 1284.3 948.3 1286.7C954.1 1289.1 959.8 1291.7 965.5 1294.3C971.2 1296.9 976.8 1299.6 982.4 1302.4C988 1305.2 993.5 1308.1 999 1311.1C1004.5 1314.1 1009.9 1317.1 1015.3 1320.3C1020.7 1323.5 1026 1326.7 1031.3 1330.1C1036.5 1333.4 1041.8 1336.8 1046.9 1340.3C1052.1 1343.9 1057.2 1347.5 1062.2 1351.1C1067.2 1354.8 1072.2 1358.6 1077.1 1362.5C1082 1366.3 1086.9 1370.2 1091.7 1374.2C1096.4 1378.3 1101.2 1382.4 1105.8 1386.5C1110.4 1390.7 1115 1394.9 1119.5 1399.3C1124 1403.6 1128.4 1408 1132.8 1412.5C1137.1 1416.9 1141.4 1421.5 1145.6 1426.1C1149.8 1430.7 1153.9 1435.4 1158 1440.1C1162 1444.9 1166 1449.7 1169.9 1454.6C1173.8 1459.5 1177.6 1464.4 1181.3 1469.5C1185 1474.5 1188.7 1479.6 1192.2 1484.7C1195.8 1489.8 1199.2 1495 1202.6 1500.3C1206 1505.6 1209.3 1510.9 1212.5 1516.2C1215.7 1521.6 1218.8 1527.1 1221.8 1532.5C1224.8 1538 1227.8 1543.6 1230.6 1549.1C1233.4 1554.7 1236.2 1560.4 1238.8 1566C1241.5 1571.7 1244 1577.4 1246.4 1583.2C1248.9 1589 1251.2 1594.8 1253.5 1600.7C1255.7 1606.5 1257.9 1612.4 1259.9 1618.3C1262 1624.3 1263.9 1630.2 1265.8 1636.2C1267.6 1642.2 1269.4 1648.3 1271 1654.4C1272.6 1660.4 1274.1 1666.5 1275.6 1672.7C1277 1678.8 1278.3 1684.9 1279.5 1691.1C1280.7 1697.3 1281.8 1703.5 1282.7 1709.7C1283.7 1715.9 1284.6 1722.2 1285.3 1728.4C1286.1 1734.7 1286.7 1740.9 1287.3 1747.2C1287.8 1753.5 1288.2 1759.8 1288.5 1766.1C1288.8 1772.4 1288.9 1779.8 1289 1785C1289.1 1790.2 1289 1795 1289 1797L1289 1872.5"/>
<path d="M260 1869.9L260 1797C260 1795 260 1789.8 260 1785C260 1780.2 259.9 1773.7 260 1768C260.1 1762.3 260.3 1756.7 260.6 1751C261 1745.3 261.4 1739.7 261.9 1734C262.4 1728.4 263.1 1722.7 263.8 1717.1C264.5 1711.5 265.3 1705.8 266.3 1700.2C267.2 1694.6 268.3 1689 269.4 1683.5C270.5 1677.9 271.8 1672.4 273.1 1666.8C274.5 1661.3 275.9 1655.8 277.4 1650.4C279 1644.9 280.6 1639.4 282.3 1634C284.1 1628.6 285.9 1623.2 287.8 1617.9C289.7 1612.5 291.8 1607.2 293.9 1601.9C296 1596.6 298.2 1591.4 300.5 1586.2C302.8 1581 305.2 1575.8 307.6 1570.7C310.1 1565.6 312.7 1560.5 315.3 1555.5C318 1550.4 320.7 1545.5 323.5 1540.5C326.4 1535.6 329.3 1530.7 332.3 1525.9C335.3 1521 338.4 1516.2 341.5 1511.5C344.7 1506.8 347.9 1502.1 351.2 1497.5C354.6 1492.8 358 1488.3 361.5 1483.8C364.9 1479.3 368.5 1474.8 372.1 1470.5C375.8 1466.1 379.5 1461.8 383.3 1457.5C387.1 1453.2 390.9 1449.1 394.9 1444.9C398.8 1440.8 402.8 1436.8 406.9 1432.8C411 1428.8 415.1 1424.9 419.3 1421.1C423.5 1417.2 427.8 1413.5 432.2 1409.8C436.5 1406.1 440.9 1402.5 445.4 1399C449.9 1395.4 454.4 1392 459 1388.6C463.6 1385.3 468.3 1382 473 1378.8C477.7 1375.6 482.5 1372.5 487.3 1369.4C492.2 1366.4 497 1363.5 502 1360.6C506.9 1357.8 511.9 1355 516.9 1352.3C522 1349.6 527.1 1347.1 532.2 1344.6C537.3 1342.1 542.5 1339.7 547.7 1337.4C552.9 1335.1 558.2 1332.9 563.5 1330.8C568.8 1328.7 574.1 1326.7 579.5 1324.8C584.9 1322.9 590.3 1321 595.7 1319.3C601.1 1317.6 606.6 1316 612.1 1314.5C617.6 1313 623.1 1311.6 628.6 1310.3C634.2 1309 639.7 1307.8 645.3 1306.7C650.9 1305.6 656.5 1304.6 662.1 1303.7C667.7 1302.8 673.4 1302 679 1301.3C684.7 1300.6 690.3 1300 696 1299.5C701.6 1299 707.3 1298.6 713 1298.4C718.6 1298.1 724.3 1297.9 730 1297.8C735.7 1297.7 741.3 1297.8 747 1297.9C752.7 1298 758.3 1298.3 764 1298.6C769.6 1298.9 775.3 1299.3 780.9 1299.9C786.6 1300.4 792.2 1301 797.8 1301.7C803.4 1302.5 809 1303.3 814.6 1304.2C820.1 1305.1 825.7 1306.1 831.2 1307.2C836.8 1308.3 842.3 1309.5 847.8 1310.8C853.3 1312.1 858.7 1313.5 864.2 1315C869.6 1316.5 875 1318.1 880.4 1319.7C885.8 1321.4 891.1 1323.2 896.5 1325C901.8 1326.9 907.1 1328.8 912.3 1330.8C917.6 1332.8 922.8 1334.9 928 1337.1C933.1 1339.3 938.3 1341.6 943.4 1344C948.5 1346.3 953.5 1348.8 958.5 1351.3C963.5 1353.8 968.5 1356.4 973.4 1359.1C978.4 1361.8 983.3 1364.6 988.1 1367.4C992.9 1370.3 997.7 1373.2 1002.4 1376.2C1007.2 1379.2 1011.9 1382.3 1016.5 1385.5C1021.1 1388.6 1025.7 1391.9 1030.2 1395.2C1034.8 1398.5 1039.2 1401.9 1043.6 1405.3C1048.1 1408.8 1052.4 1412.3 1056.7 1415.9C1061 1419.5 1065.3 1423.2 1069.4 1426.9C1073.6 1430.6 1077.7 1434.4 1081.8 1438.3C1085.8 1442.2 1089.8 1446.1 1093.8 1450.1C1097.7 1454.1 1101.5 1458.2 1105.3 1462.4C1109.1 1466.5 1112.8 1470.7 1116.5 1475C1120.1 1479.2 1123.7 1483.5 1127.2 1487.9C1130.7 1492.3 1134.2 1496.8 1137.5 1501.3C1140.9 1505.8 1144.2 1510.3 1147.4 1514.9C1150.6 1519.6 1153.7 1524.2 1156.8 1529C1159.8 1533.7 1162.8 1538.5 1165.7 1543.3C1168.5 1548.1 1171.3 1553 1174.1 1557.9C1176.8 1562.9 1179.4 1567.8 1182 1572.9C1184.5 1577.9 1187 1582.9 1189.3 1588.1C1191.7 1593.2 1194 1598.3 1196.2 1603.5C1198.4 1608.7 1200.5 1613.9 1202.5 1619.2C1204.5 1624.5 1206.4 1629.8 1208.3 1635.1C1210.1 1640.5 1211.8 1645.8 1213.5 1651.2C1215.1 1656.6 1216.6 1662.1 1218.1 1667.5C1219.5 1673 1220.9 1678.5 1222.1 1684C1223.4 1689.5 1224.5 1695.1 1225.6 1700.6C1226.6 1706.2 1227.6 1711.7 1228.5 1717.3C1229.3 1722.9 1230.1 1728.5 1230.7 1734.2C1231.4 1739.8 1232 1745.4 1232.4 1751.1C1232.9 1756.7 1233.3 1762.4 1233.5 1768C1233.8 1773.7 1233.9 1780.2 1234 1785C1234.1 1789.8 1234 1795 1234 1797L1234 1872.7"/>
<path d="M316 1868.9L316 1797C316 1795 316 1789.5 316 1785C316 1780.5 315.9 1775 315.9 1769.9C316 1764.9 316.2 1759.9 316.4 1754.9C316.6 1749.9 317 1744.9 317.4 1739.8C317.8 1734.8 318.3 1729.8 318.9 1724.8C319.5 1719.8 320.1 1714.8 320.9 1709.9C321.7 1704.9 322.5 1699.9 323.5 1695C324.4 1690 325.4 1685.1 326.5 1680.2C327.7 1675.3 328.9 1670.4 330.2 1665.5C331.5 1660.6 332.9 1655.7 334.3 1650.9C335.8 1646.1 337.4 1641.3 339 1636.5C340.7 1631.7 342.4 1627 344.2 1622.3C346 1617.5 347.9 1612.9 349.9 1608.2C351.9 1603.6 354 1598.9 356.1 1594.4C358.3 1589.8 360.5 1585.3 362.9 1580.8C365.2 1576.3 367.6 1571.8 370.1 1567.4C372.5 1563 375.1 1558.6 377.7 1554.3C380.4 1549.9 383.1 1545.7 385.9 1541.4C388.7 1537.2 391.5 1533 394.5 1528.9C397.4 1524.8 400.4 1520.7 403.5 1516.6C406.6 1512.6 409.8 1508.6 413 1504.7C416.2 1500.8 419.5 1497 422.9 1493.2C426.2 1489.4 429.7 1485.6 433.2 1481.9C436.7 1478.3 440.2 1474.6 443.9 1471.1C447.5 1467.5 451.2 1464.1 454.9 1460.6C458.7 1457.2 462.5 1453.9 466.4 1450.6C470.2 1447.3 474.2 1444.1 478.2 1440.9C482.2 1437.8 486.2 1434.7 490.3 1431.7C494.4 1428.7 498.6 1425.8 502.8 1422.9C507 1420.1 511.2 1417.3 515.5 1414.6C519.8 1411.9 524.2 1409.3 528.6 1406.7C533 1404.2 537.5 1401.7 541.9 1399.3C546.4 1397 551 1394.7 555.5 1392.5C560.1 1390.3 564.7 1388.1 569.4 1386.1C574 1384 578.7 1382.1 583.5 1380.2C588.2 1378.4 592.9 1376.6 597.7 1374.9C602.5 1373.2 607.3 1371.6 612.2 1370.1C617 1368.6 621.9 1367.1 626.8 1365.8C631.7 1364.5 636.6 1363.2 641.6 1362.1C646.5 1360.9 651.5 1359.9 656.4 1358.9C661.4 1358 666.4 1357.1 671.4 1356.3C676.4 1355.5 681.4 1354.8 686.5 1354.3C691.5 1353.7 696.5 1353.2 701.6 1352.8C706.6 1352.3 711.7 1352 716.7 1351.8C721.8 1351.6 726.8 1351.5 731.9 1351.4C736.9 1351.4 742 1351.4 747 1351.6C752 1351.7 757.1 1351.9 762.1 1352.3C767.1 1352.6 772.2 1353 777.2 1353.5C782.2 1354 787.2 1354.6 792.2 1355.2C797.2 1355.9 802.1 1356.7 807.1 1357.5C812 1358.4 817 1359.3 821.9 1360.3C826.8 1361.3 831.7 1362.4 836.6 1363.6C841.4 1364.8 846.3 1366 851.1 1367.4C856 1368.7 860.8 1370.1 865.5 1371.6C870.3 1373.1 875.1 1374.7 879.8 1376.4C884.5 1378 889.2 1379.7 893.8 1381.6C898.5 1383.4 903.1 1385.2 907.7 1387.2C912.3 1389.1 916.9 1391.2 921.4 1393.3C925.9 1395.4 930.4 1397.5 934.9 1399.8C939.3 1402 943.8 1404.3 948.1 1406.7C952.5 1409.1 956.9 1411.5 961.2 1414.1C965.5 1416.6 969.7 1419.2 973.9 1421.8C978.2 1424.5 982.3 1427.2 986.5 1430C990.6 1432.8 994.7 1435.6 998.7 1438.5C1002.8 1441.4 1006.8 1444.4 1010.7 1447.5C1014.7 1450.5 1018.6 1453.6 1022.4 1456.8C1026.3 1459.9 1030.1 1463.2 1033.8 1466.5C1037.6 1469.8 1041.3 1473.1 1044.9 1476.5C1048.5 1479.9 1052.1 1483.4 1055.6 1486.9C1059.2 1490.5 1062.6 1494.1 1066.1 1497.7C1069.5 1501.4 1072.8 1505.1 1076.1 1508.8C1079.4 1512.6 1082.6 1516.4 1085.8 1520.3C1088.9 1524.2 1092 1528.1 1095.1 1532.1C1098.1 1536.1 1101.1 1540.1 1104 1544.2C1106.8 1548.3 1109.7 1552.5 1112.4 1556.7C1115.2 1560.9 1117.8 1565.1 1120.4 1569.4C1123 1573.7 1125.6 1578 1128 1582.4C1130.5 1586.8 1132.8 1591.2 1135.1 1595.7C1137.4 1600.2 1139.6 1604.7 1141.8 1609.2C1143.9 1613.8 1145.9 1618.4 1147.9 1623C1149.9 1627.7 1151.7 1632.3 1153.5 1637C1155.3 1641.7 1157 1646.5 1158.6 1651.2C1160.3 1656 1161.8 1660.8 1163.2 1665.6C1164.7 1670.5 1166 1675.3 1167.3 1680.2C1168.6 1685.1 1169.8 1690 1170.9 1694.9C1171.9 1699.8 1173 1704.8 1173.9 1709.7C1174.8 1714.7 1175.6 1719.7 1176.3 1724.7C1177.1 1729.6 1177.7 1734.7 1178.3 1739.7C1178.9 1744.7 1179.3 1749.7 1179.7 1754.7C1180.1 1759.8 1180.4 1764.8 1180.6 1769.9C1180.8 1774.9 1180.9 1780.5 1181 1785C1181.1 1789.5 1181 1795 1181 1797L1181 1873"/>
<path d="M371 1868L371 1797C371 1795 371 1789.2 371 1785C371 1780.8 371 1776.2 371.1 1771.9C371.2 1767.5 371.3 1763.1 371.6 1758.7C371.8 1754.4 372.1 1750 372.5 1745.6C372.9 1741.3 373.3 1736.9 373.8 1732.6C374.4 1728.2 375 1723.9 375.6 1719.5C376.3 1715.2 377 1710.9 377.9 1706.5C378.7 1702.2 379.6 1697.9 380.6 1693.6C381.5 1689.4 382.6 1685.1 383.7 1680.8C384.9 1676.6 386.1 1672.3 387.3 1668.1C388.6 1663.9 390 1659.7 391.4 1655.6C392.8 1651.4 394.4 1647.3 395.9 1643.2C397.5 1639.1 399.2 1635 400.9 1630.9C402.7 1626.9 404.5 1622.8 406.3 1618.8C408.2 1614.9 410.2 1610.9 412.2 1607C414.2 1603.1 416.3 1599.2 418.5 1595.3C420.6 1591.5 422.9 1587.7 425.2 1583.9C427.4 1580.1 429.8 1576.4 432.2 1572.7C434.7 1569 437.2 1565.4 439.7 1561.8C442.3 1558.2 444.9 1554.6 447.6 1551.1C450.3 1547.6 453 1544.1 455.8 1540.7C458.7 1537.3 461.5 1533.9 464.5 1530.6C467.4 1527.3 470.4 1524 473.4 1520.8C476.4 1517.6 479.5 1514.4 482.7 1511.3C485.9 1508.2 489.1 1505.2 492.3 1502.2C495.6 1499.2 498.9 1496.2 502.3 1493.3C505.6 1490.5 509 1487.6 512.5 1484.9C516 1482.1 519.5 1479.4 523.1 1476.8C526.6 1474.1 530.2 1471.6 533.9 1469C537.5 1466.5 541.2 1464.1 545 1461.7C548.7 1459.3 552.5 1457 556.3 1454.8C560.2 1452.5 564 1450.4 567.9 1448.2C571.9 1446.1 575.8 1444.1 579.8 1442.2C583.8 1440.2 587.8 1438.3 591.8 1436.5C595.9 1434.7 600 1432.9 604.1 1431.3C608.2 1429.6 612.4 1428 616.5 1426.5C620.7 1425 624.9 1423.6 629.1 1422.3C633.4 1420.9 637.6 1419.6 641.9 1418.5C646.2 1417.3 650.5 1416.2 654.8 1415.1C659.1 1414.1 663.4 1413.2 667.8 1412.3C672.1 1411.5 676.5 1410.7 680.9 1410C685.3 1409.3 689.6 1408.7 694 1408.2C698.4 1407.7 702.8 1407.2 707.3 1406.9C711.7 1406.5 716.1 1406.3 720.5 1406.1C724.9 1405.9 729.3 1405.8 733.8 1405.8C738.2 1405.7 742.6 1405.8 747 1405.9C751.4 1406.1 755.8 1406.3 760.2 1406.6C764.6 1406.9 769 1407.3 773.4 1407.8C777.8 1408.2 782.1 1408.8 786.5 1409.4C790.8 1410 795.2 1410.7 799.5 1411.5C803.8 1412.3 808.1 1413.2 812.4 1414.1C816.7 1415 821 1416 825.2 1417.1C829.4 1418.2 833.7 1419.3 837.9 1420.5C842.1 1421.8 846.2 1423 850.4 1424.4C854.6 1425.8 858.7 1427.2 862.8 1428.7C866.9 1430.2 870.9 1431.7 875 1433.3C879 1435 883.1 1436.7 887 1438.4C891 1440.1 895 1442 898.9 1443.8C902.8 1445.7 906.7 1447.6 910.6 1449.6C914.4 1451.6 918.3 1453.7 922.1 1455.8C925.9 1457.9 929.6 1460 933.3 1462.3C937.1 1464.5 940.8 1466.8 944.4 1469.1C948.1 1471.4 951.7 1473.8 955.3 1476.2C958.8 1478.7 962.4 1481.2 965.9 1483.7C969.4 1486.3 972.9 1488.9 976.3 1491.5C979.7 1494.2 983.1 1496.9 986.4 1499.6C989.8 1502.4 993.1 1505.2 996.3 1508.1C999.6 1510.9 1002.8 1513.9 1006 1516.8C1009.2 1519.8 1012.3 1522.8 1015.3 1525.9C1018.4 1528.9 1021.5 1532 1024.4 1535.2C1027.4 1538.4 1030.3 1541.6 1033.2 1544.8C1036.1 1548.1 1038.9 1551.4 1041.7 1554.8C1044.4 1558.1 1047.2 1561.5 1049.8 1565C1052.5 1568.4 1055.1 1571.9 1057.6 1575.5C1060.1 1579 1062.6 1582.6 1065 1586.3C1067.4 1589.9 1069.8 1593.6 1072.1 1597.3C1074.4 1601 1076.6 1604.8 1078.8 1608.6C1080.9 1612.4 1083 1616.3 1085 1620.1C1087 1624 1089 1627.9 1090.9 1631.9C1092.7 1635.9 1094.5 1639.9 1096.3 1643.9C1098 1647.9 1099.7 1652 1101.2 1656.1C1102.8 1660.2 1104.3 1664.3 1105.8 1668.4C1107.2 1672.6 1108.5 1676.8 1109.8 1681C1111.1 1685.2 1112.3 1689.4 1113.4 1693.6C1114.5 1697.9 1115.6 1702.2 1116.6 1706.4C1117.5 1710.7 1118.4 1715 1119.3 1719.4C1120.1 1723.7 1120.8 1728 1121.5 1732.4C1122.1 1736.7 1122.7 1741.1 1123.3 1745.5C1123.8 1749.8 1124.2 1754.2 1124.6 1758.6C1125 1763 1125.3 1767.4 1125.5 1771.8C1125.7 1776.2 1125.9 1780.8 1126 1785C1126.1 1789.2 1126 1795 1126 1797L1126 1873.2"/>
<path d="M425 1867.1L425 1797C425 1795 425 1788.9 425 1785C425 1781.1 425 1777.5 425.1 1773.8C425.2 1770 425.3 1766.3 425.5 1762.5C425.7 1758.8 425.9 1755 426.2 1751.3C426.6 1747.5 426.9 1743.8 427.3 1740.1C427.8 1736.3 428.3 1732.6 428.8 1728.9C429.4 1725.2 430 1721.5 430.6 1717.8C431.3 1714.1 432.1 1710.4 432.9 1706.7C433.7 1703 434.6 1699.3 435.5 1695.7C436.5 1692 437.5 1688.4 438.5 1684.8C439.6 1681.2 440.8 1677.6 442 1674C443.2 1670.4 444.5 1666.9 445.8 1663.3C447.2 1659.8 448.6 1656.3 450.1 1652.8C451.6 1649.3 453.1 1645.9 454.7 1642.4C456.3 1639 458 1635.6 459.7 1632.3C461.5 1628.9 463.3 1625.6 465.1 1622.3C467 1619 468.9 1615.7 470.9 1612.5C472.9 1609.3 474.9 1606.1 477 1602.9C479.1 1599.8 481.3 1596.6 483.5 1593.6C485.7 1590.5 488 1587.4 490.3 1584.4C492.6 1581.4 495 1578.5 497.4 1575.6C499.8 1572.7 502.3 1569.8 504.9 1567C507.4 1564.1 510 1561.4 512.6 1558.6C515.2 1555.9 517.9 1553.2 520.6 1550.5C523.3 1547.9 526.1 1545.3 528.9 1542.8C531.7 1540.2 534.5 1537.7 537.4 1535.2C540.3 1532.8 543.3 1530.4 546.2 1528C549.2 1525.7 552.2 1523.4 555.3 1521.1C558.3 1518.9 561.4 1516.7 564.6 1514.5C567.7 1512.4 570.9 1510.3 574.1 1508.3C577.3 1506.3 580.5 1504.3 583.8 1502.4C587.1 1500.4 590.4 1498.6 593.7 1496.8C597.1 1495 600.5 1493.2 603.9 1491.5C607.3 1489.9 610.7 1488.2 614.2 1486.7C617.6 1485.1 621.1 1483.6 624.7 1482.2C628.2 1480.8 631.7 1479.4 635.3 1478.1C638.9 1476.8 642.5 1475.5 646.1 1474.4C649.7 1473.2 653.3 1472.1 657 1471.1C660.6 1470 664.3 1469.1 668 1468.2C671.7 1467.3 675.4 1466.5 679.1 1465.7C682.9 1464.9 686.6 1464.3 690.3 1463.7C694.1 1463 697.8 1462.5 701.6 1462C705.4 1461.6 709.2 1461.2 712.9 1460.8C716.7 1460.5 720.5 1460.3 724.3 1460.1C728.1 1459.9 731.9 1459.8 735.6 1459.8C739.4 1459.7 743.2 1459.8 747 1459.9C750.8 1460 754.6 1460.2 758.3 1460.4C762.1 1460.6 765.9 1461 769.6 1461.4C773.4 1461.7 777.1 1462.2 780.9 1462.7C784.6 1463.2 788.3 1463.8 792 1464.5C795.8 1465.1 799.5 1465.9 803.1 1466.6C806.8 1467.4 810.5 1468.3 814.1 1469.2C817.8 1470.1 821.4 1471.1 825 1472.1C828.6 1473.1 832.2 1474.2 835.8 1475.4C839.4 1476.5 842.9 1477.7 846.4 1479C849.9 1480.3 853.5 1481.6 856.9 1483C860.4 1484.4 863.9 1485.8 867.3 1487.3C870.7 1488.8 874.1 1490.3 877.5 1491.9C880.9 1493.5 884.2 1495.1 887.6 1496.8C890.9 1498.5 894.2 1500.2 897.5 1502C900.7 1503.8 904 1505.7 907.2 1507.6C910.4 1509.4 913.6 1511.4 916.7 1513.4C919.9 1515.3 923 1517.4 926.1 1519.5C929.2 1521.5 932.3 1523.7 935.3 1525.8C938.3 1528 941.3 1530.2 944.3 1532.5C947.3 1534.7 950.2 1537 953.1 1539.4C956 1541.7 958.8 1544.1 961.7 1546.6C964.5 1549 967.3 1551.5 970 1554.1C972.8 1556.6 975.5 1559.2 978.1 1561.8C980.8 1564.4 983.4 1567.1 986 1569.8C988.6 1572.5 991.1 1575.3 993.6 1578.1C996.1 1580.9 998.5 1583.7 1000.9 1586.6C1003.3 1589.5 1005.6 1592.4 1007.9 1595.4C1010.2 1598.4 1012.5 1601.4 1014.6 1604.5C1016.8 1607.5 1018.9 1610.6 1021 1613.8C1023.1 1616.9 1025.1 1620.1 1027 1623.3C1029 1626.5 1030.9 1629.8 1032.7 1633.1C1034.5 1636.4 1036.3 1639.7 1038 1643.1C1039.7 1646.4 1041.3 1649.8 1042.9 1653.3C1044.4 1656.7 1045.9 1660.2 1047.3 1663.7C1048.8 1667.1 1050.1 1670.7 1051.4 1674.2C1052.7 1677.7 1053.9 1681.3 1055.1 1684.9C1056.2 1688.5 1057.3 1692.1 1058.3 1695.7C1059.3 1699.4 1060.2 1703 1061.1 1706.7C1062 1710.3 1062.8 1714 1063.5 1717.7C1064.2 1721.4 1064.9 1725.1 1065.5 1728.8C1066.1 1732.6 1066.6 1736.3 1067.1 1740C1067.6 1743.7 1068 1747.5 1068.3 1751.2C1068.7 1755 1069 1758.7 1069.2 1762.5C1069.5 1766.2 1069.6 1770 1069.8 1773.7C1069.9 1777.5 1070 1781.1 1070 1785C1070 1788.9 1070 1795 1070 1797L1070 1873.4"/>
<path d="M39 1873.7L425.8 1867.2"/>
<path d="M1068.6 1873.5L1452 1871.9"/>
</g>
<g font-family="'Liberation Sans',sans-serif" font-size="36" fill="#0a0a0a" stroke="#0a0a0a" stroke-width="0.95" stroke-linejoin="round">
<text id="t_red" x="716.8" y="1121" textLength="51.5" lengthAdjust="spacingAndGlyphs">red</text>
<text id="t_yellow" x="689.6" y="1174.1" textLength="106.6" lengthAdjust="spacingAndGlyphs">yellow</text>
<text id="t_pink" x="709" y="1226.9" textLength="69.2" lengthAdjust="spacingAndGlyphs">pink</text>
<text id="t_green" x="696.7" y="1280.7" textLength="92.3" lengthAdjust="spacingAndGlyphs">green</text>
<text id="t_purple" x="691.8" y="1333.6" textLength="104.7" lengthAdjust="spacingAndGlyphs">purple</text>
<text id="t_orange" x="686.2" y="1386.7" textLength="114.2" lengthAdjust="spacingAndGlyphs">orange</text>
<text id="t_blue" x="709" y="1440.4" textLength="70.2" lengthAdjust="spacingAndGlyphs">blue</text>
</g>
<g id="footer">
<circle cx="1530" cy="1986" r="122" fill="url(#ball)" filter="url(#soft)"/>
<text id="t_colours" x="1164" y="1946.5" font-family="'Liberation Sans',sans-serif" font-weight="bold" font-size="26" textLength="92" lengthAdjust="spacingAndGlyphs" fill="#0a0a0a" stroke="#0a0a0a" stroke-width="0.9">Colours</text>
<text id="t_starter" x="1291" y="1946" font-family="'Liberation Sans',sans-serif" font-weight="bold" font-style="italic" font-size="26" textLength="84" lengthAdjust="spacingAndGlyphs" fill="#0a0a0a" stroke="#0a0a0a" stroke-width="1.4">Starter</text>
<text id="t_7" x="1463.6" y="1944.6" font-family="'Liberation Sans',sans-serif" font-weight="bold" font-style="italic" font-size="36" fill="#0a0a0a" stroke="#0a0a0a" stroke-width="2.2" stroke-linejoin="round">7</text>
</g>
</g>
</svg>
</body>
</html>
